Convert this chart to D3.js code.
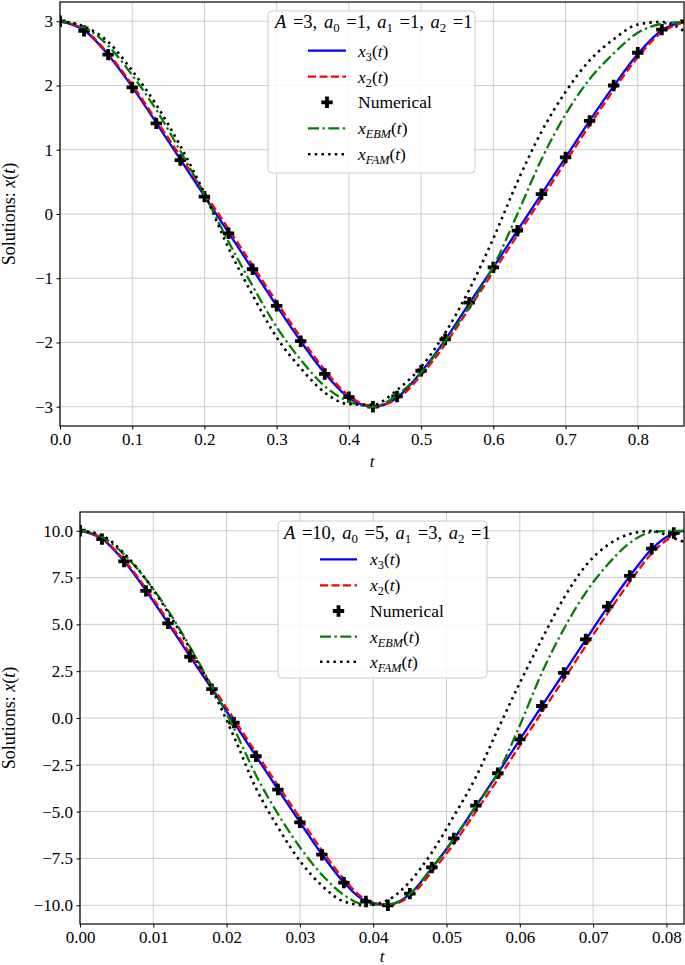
<!DOCTYPE html>
<html><head><meta charset="utf-8">
<script src="https://cdn.jsdelivr.net/npm/d3@7"></script>
<style>body{margin:0;background:#fff} svg text{font-family:'Liberation Serif','Tinos','DejaVu Serif',serif !important;fill:#000}</style>
</head><body><svg id="c" width="685" height="965"></svg>
<script>
// ---------- data: top panel (A=3, a0=1, a1=1, a2=1) ----------
const tTop = [0,0.0333,0.0666,0.1,0.1333,0.1666,0.2,0.2333,0.2666,0.3,0.3333,0.3666,0.4,0.4333,0.4666,0.5,0.5333,0.5666,0.6,0.6333,0.6666,0.7,0.7333,0.7666,0.8,0.8333,0.8666];
const numTop = [3.00,2.85,2.48,1.97,1.41,0.84,0.27,-0.30,-0.86,-1.43,-1.98,-2.49,-2.85,-3.00,-2.84,-2.44,-1.95,-1.38,-0.83,-0.26,0.31,0.88,1.45,2.00,2.51,2.87,3.00];
const x3Top = [3.00,2.86,2.48,1.98,1.42,0.85,0.28,-0.29,-0.86,-1.43,-1.98,-2.48,-2.86,-3.00,-2.86,-2.46,-1.96,-1.39,-0.83,-0.26,0.31,0.88,1.45,1.99,2.49,2.86,3.00];
const x2Top = [3.00,2.87,2.50,2.01,1.46,0.90,0.33,-0.23,-0.80,-1.37,-1.92,-2.43,-2.83,-2.99,-2.88,-2.51,-2.03,-1.47,-0.90,-0.33,0.24,0.81,1.38,1.93,2.44,2.83,2.99];
const ebmTop = [3.00,2.91,2.62,2.16,1.62,0.98,0.30,-0.43,-1.12,-1.76,-2.27,-2.68,-2.92,-3.00,-2.82,-2.47,-1.98,-1.44,-0.82,0.00,0.85,1.55,2.10,2.50,2.82,2.96,2.99];
const famTop = [3.00,2.92,2.68,2.23,1.70,1.06,0.32,-0.53,-1.26,-1.92,-2.40,-2.78,-2.96,-2.97,-2.74,-2.38,-1.85,-1.18,-0.38,0.50,1.28,1.90,2.39,2.72,2.95,2.99,2.83];
const xTicksTop = [0,0.1,0.2,0.3,0.4,0.5,0.6,0.7,0.8];
const xLabelsTop = ["0.0","0.1","0.2","0.3","0.4","0.5","0.6","0.7","0.8"];
const yTicksTop = [-3,-2,-1,0,1,2,3];
const yLabelsTop = ["\u22123","\u22122","\u22121","0","1","2","3"];

// ---------- data: bottom panel (A=10, a0=5, a1=3, a2=1) ----------
const tBot = [0,0.003,0.006,0.009,0.012,0.015,0.018,0.021,0.024,0.027,0.030,0.033,0.036,0.039,0.042,0.045,0.048,0.051,0.054,0.057,0.060,0.063,0.066,0.069,0.072,0.075,0.078,0.081,0.0824];
const numBot = [10.0,9.55,8.36,6.79,5.05,3.27,1.54,-0.25,-2.04,-3.82,-5.57,-7.30,-8.79,-9.80,-10.0,-9.38,-7.98,-6.43,-4.68,-2.95,-1.14,0.64,2.41,4.20,5.95,7.59,9.04,9.88];
const x3Bot = [10.0,9.57,8.38,6.81,5.07,3.29,1.55,-0.24,-2.03,-3.81,-5.56,-7.28,-8.78,-9.78,-9.98,-9.40,-8.02,-6.46,-4.71,-2.96,-1.15,0.63,2.40,4.18,5.93,7.57,9.02,9.87,10.0];
const x2Bot = [10.0,9.60,8.45,6.92,5.20,3.44,1.72,-0.06,-1.84,-3.60,-5.33,-7.07,-8.60,-9.70,-9.99,-9.52,-8.22,-6.72,-5.00,-3.28,-1.48,0.30,2.07,3.85,5.60,7.27,8.78,9.75,9.97];
const ebmBot = [10.0,9.68,8.74,7.40,5.75,3.80,1.69,-0.55,-3.05,-5.12,-6.90,-8.37,-9.45,-9.97,-9.95,-9.40,-8.00,-6.45,-4.72,-2.95,-0.40,2.41,4.75,6.70,8.20,9.35,9.92,9.99,9.99];
const famBot = [10.0,9.75,8.80,7.40,5.65,3.70,1.54,-0.99,-3.74,-5.83,-7.63,-8.95,-9.80,-10.0,-9.72,-8.74,-7.18,-5.24,-3.16,-0.61,1.87,4.20,6.40,8.14,9.24,9.82,9.99,9.60,9.40];
const xTicksBot = [0,0.01,0.02,0.03,0.04,0.05,0.06,0.07,0.08];
const xLabelsBot = ["0.00","0.01","0.02","0.03","0.04","0.05","0.06","0.07","0.08"];
const yTicksBot = [-10,-7.5,-5,-2.5,0,2.5,5,7.5,10];
const yLabelsBot = ["\u221210.0","\u22127.5","\u22125.0","\u22122.5","0.0","2.5","5.0","7.5","10.0"];

// legend labels
const seriesNames = ["x3","x2","Numerical","EBM","FAM"];
const titleTop = [["A","i"],[" =3, ",""],["a","i"],["0","s"],[" =1, ",""],["a","i"],["1","s"],[" =1, ",""],["a","i"],["2","s"],[" =1",""]];
const titleBot = [["A","i"],[" =10, ",""],["a","i"],["0","s"],[" =5, ",""],["a","i"],["1","s"],[" =3, ",""],["a","i"],["2","s"],[" =1",""]];
const entryLabels = [
  [["x","i"],["3","s"],["(",""],["t","i"],[")",""]],
  [["x","i"],["2","s"],["(",""],["t","i"],[")",""]],
  [["Numerical",""]],
  [["x","i"],["EBM","si"],["(",""],["t","i"],[")",""]],
  [["x","i"],["FAM","si"],["(",""],["t","i"],[")",""]]
];

// ---------- drawing ----------
const svg = d3.select("#c");
const FONT = "'Liberation Serif','Tinos','DejaVu Serif',serif";
const styles = {
  x3:  {stroke:"#0000ff", dash:null, w:2.3},
  x2:  {stroke:"#ff0000", dash:"8,3.5", w:2.3},
  EBM: {stroke:"#008000", dash:"11,3.5,2.3,3.5", w:2.3},
  FAM: {stroke:"#000000", dash:"2.5,4.2", w:2.6}
};
const TICK_FS = 17, LEG_FS = 17.5, TITLE_FS = 18.5;

function rich(textSel, segs, fs) {
  let shifted = false;
  textSel.style("font-family", FONT);
  segs.forEach(([s, st]) => {
    const sp = textSel.append("tspan").text(s);
    const isSub = st === "s" || st === "si";
    if (st === "i" || st === "si") sp.attr("font-style", "italic");
    if (isSub) {
      sp.attr("font-size", fs * 0.7);
      if (!shifted) { sp.attr("dy", fs * 0.22); shifted = true; }
    } else if (shifted) {
      sp.attr("dy", -fs * 0.22); shifted = false;
    }
  });
}

function plusPath(size) {
  return d3.symbol(d3.symbolCross, size)();
}

function panel(cfg) {
  const g = svg.append("g");
  const x = d3.scaleLinear().domain(cfg.xDomain).range([cfg.left, cfg.right]);
  const y = d3.scaleLinear().domain(cfg.yDomain).range([cfg.bottom, cfg.top]);
  const id = "clip" + cfg.name;
  svg.append("clipPath").attr("id", id).append("rect")
    .attr("x", cfg.left).attr("y", cfg.top)
    .attr("width", cfg.right - cfg.left).attr("height", cfg.bottom - cfg.top);

  // grid
  const grid = g.append("g").attr("stroke", "#cdcdcd").attr("stroke-width", 1);
  cfg.xTicks.forEach(v => grid.append("line").attr("x1", x(v)).attr("x2", x(v)).attr("y1", cfg.top).attr("y2", cfg.bottom));
  cfg.yTicks.forEach(v => grid.append("line").attr("y1", y(v)).attr("y2", y(v)).attr("x1", cfg.left).attr("x2", cfg.right));

  // curves
  const plot = g.append("g").attr("clip-path", `url(#${id})`);
  const line = arr => d3.line().curve(d3.curveMonotoneX).x((d, i) => x(cfg.t[i])).y(d => y(d))(arr);
  [["x3", cfg.x3], ["x2", cfg.x2]].forEach(([k, arr]) => {
    const s = styles[k];
    plot.append("path").attr("d", line(arr)).attr("fill", "none").attr("stroke", s.stroke)
      .attr("stroke-width", s.w).attr("stroke-dasharray", s.dash);
  });
  plot.append("g").selectAll("path").data(cfg.num).join("path")
    .attr("d", plusPath(72))
    .attr("transform", (d, i) => `translate(${x(cfg.t[i])},${y(d)})`)
    .attr("fill", "#000");
  [["EBM", cfg.ebm], ["FAM", cfg.fam]].forEach(([k, arr]) => {
    const s = styles[k];
    plot.append("path").attr("d", line(arr)).attr("fill", "none").attr("stroke", s.stroke)
      .attr("stroke-width", s.w).attr("stroke-dasharray", s.dash);
  });

  // axes
  const xa = g.append("g").attr("transform", `translate(0,${cfg.bottom})`)
    .call(d3.axisBottom(x).tickValues(cfg.xTicks).tickFormat((d, i) => cfg.xLabels[i]).tickSize(3.5).tickPadding(3).tickSizeOuter(0));
  const ya = g.append("g").attr("transform", `translate(${cfg.left},0)`)
    .call(d3.axisLeft(y).tickValues(cfg.yTicks).tickFormat((d, i) => cfg.yLabels[i]).tickSize(3.5).tickPadding(3.5).tickSizeOuter(0));
  [xa, ya].forEach(a => {
    a.attr("font-family", null).attr("font-size", null);
    a.select(".domain").remove();
    a.selectAll("line").attr("stroke", "#000").attr("stroke-width", 1);
    a.selectAll("text").style("font-family", FONT).attr("font-size", TICK_FS).attr("fill", "#000");
  });
  g.append("rect").attr("x", cfg.left).attr("y", cfg.top).attr("width", cfg.right - cfg.left)
    .attr("height", cfg.bottom - cfg.top).attr("fill", "none").attr("stroke", "#000").attr("stroke-width", 1.2);

  // axis labels
  const xl = g.append("text").attr("x", (cfg.left + cfg.right) / 2).attr("y", cfg.xLabelY)
    .attr("text-anchor", "middle").attr("font-size", 17);
  rich(xl, [["t", "i"]], 17);
  const yl = g.append("text").attr("transform", `translate(${cfg.yLabelX},${(cfg.top + cfg.bottom) / 2}) rotate(-90)`)
    .attr("text-anchor", "middle").attr("font-size", 18);
  rich(yl, [["Solutions: ", ""], ["x", "i"], ["(", ""], ["t", "i"], [")", ""]], 18);

  // legend
  const L = cfg.legend;
  const lg = g.append("g");
  lg.append("rect").attr("x", L.x0).attr("y", L.y0).attr("width", L.x1 - L.x0).attr("height", L.y1 - L.y0)
    .attr("rx", 4).attr("fill", "#fff").attr("fill-opacity", 0.85).attr("stroke", "#cccccc").attr("stroke-width", 1);
  const tt = lg.append("text").attr("x", L.titleX).attr("y", L.titleY).attr("font-size", TITLE_FS)
    .attr("word-spacing", 2);
  rich(tt, cfg.title, TITLE_FS);
  seriesNames.forEach((k, i) => {
    const yy = L.rows[i];
    if (k === "Numerical") {
      lg.append("path").attr("d", plusPath(72)).attr("transform", `translate(${(L.h0 + L.h1) / 2},${yy})`).attr("fill", "#000");
    } else {
      const s = styles[k];
      lg.append("line").attr("x1", L.h0).attr("x2", L.h1).attr("y1", yy).attr("y2", yy)
        .attr("stroke", s.stroke).attr("stroke-width", s.w).attr("stroke-dasharray", s.dash);
    }
    const tx = lg.append("text").attr("x", L.textX).attr("y", yy + 6).attr("font-size", LEG_FS);
    rich(tx, entryLabels[i], LEG_FS);
  });
}

panel({
  name: "top", left: 60, right: 684, top: 2, bottom: 426,
  xDomain: [0, 0.864], yDomain: [-3.3, 3.3],
  xTicks: xTicksTop, xLabels: xLabelsTop, yTicks: yTicksTop, yLabels: yLabelsTop,
  t: tTop, num: numTop, x3: x3Top, x2: x2Top, ebm: ebmTop, fam: famTop,
  xLabelY: 467, yLabelX: 15, title: titleTop,
  legend: {x0: 268, y0: 11, x1: 475, y1: 173, titleX: 275, titleY: 28, h0: 308, h1: 346, textX: 358,
           rows: [50.7, 76.7, 102.3, 128.3, 154.3]}
});
panel({
  name: "bot", left: 80, right: 684, top: 512, bottom: 924,
  xDomain: [0, 0.0824], yDomain: [-11, 11],
  xTicks: xTicksBot, xLabels: xLabelsBot, yTicks: yTicksBot, yLabels: yLabelsBot,
  t: tBot, num: numBot, x3: x3Bot, x2: x2Bot, ebm: ebmBot, fam: famBot,
  xLabelY: 962, yLabelX: 15, title: titleBot,
  legend: {x0: 278, y0: 521, x1: 487, y1: 678, titleX: 284, titleY: 539, h0: 320, h1: 357, textX: 370,
           rows: [559.3, 585.3, 611, 636.7, 661.7]}
});
</script></body></html>
